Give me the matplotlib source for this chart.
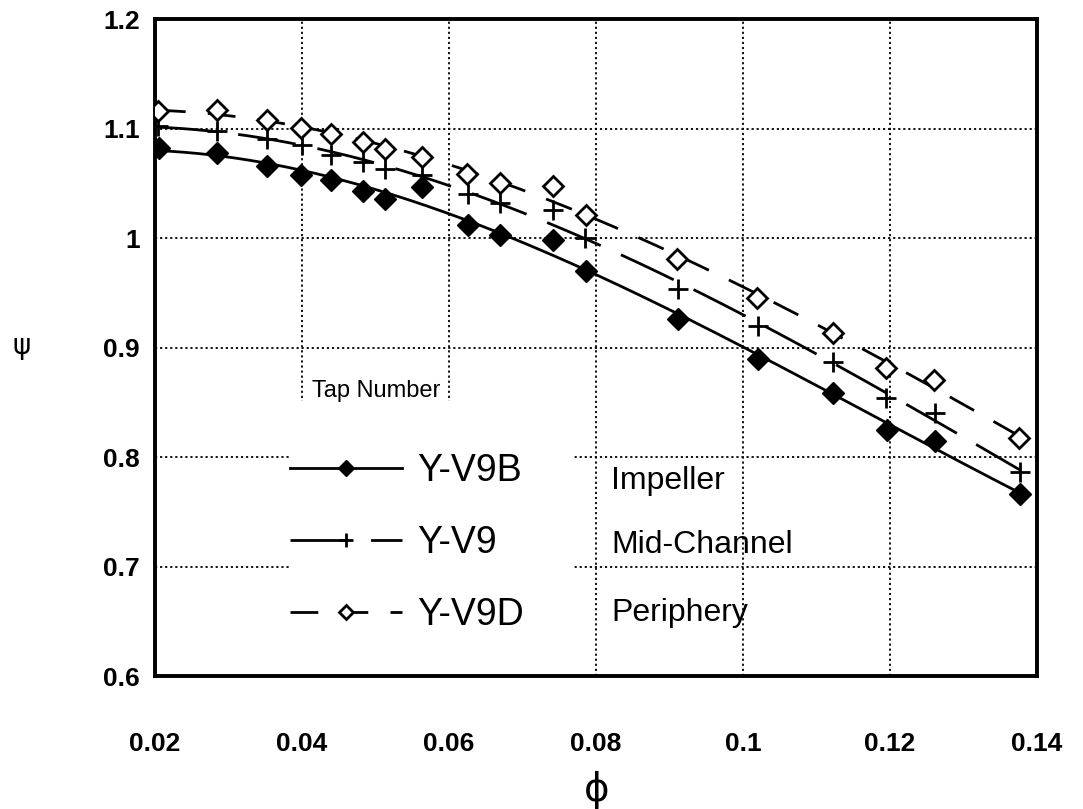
import matplotlib
matplotlib.use("Agg")
import matplotlib.pyplot as plt
from matplotlib.lines import Line2D
from matplotlib.patches import Rectangle
from matplotlib.ticker import FuncFormatter
import numpy as np

plt.rcParams["font.family"] = ["Liberation Sans", "DejaVu Sans"]

# flow coefficient (phi) and head coefficient (psi) for the three taps
phi_imp = [0.0205, 0.0284, 0.0353, 0.0399, 0.0440, 0.0483, 0.0513, 0.0563, 0.0626,
           0.0669, 0.0742, 0.0787, 0.0911, 0.1020, 0.1123, 0.1196, 0.1261, 0.1377]
psi_imp = [1.083, 1.078, 1.066, 1.058, 1.053, 1.043, 1.036, 1.047, 1.012,
           1.003, 0.999, 0.970, 0.926, 0.890, 0.859, 0.825, 0.815, 0.767]

phi_mid = [0.0204, 0.0284, 0.0353, 0.0400, 0.0440, 0.0483, 0.0513, 0.0563, 0.0626,
           0.0669, 0.0742, 0.0785, 0.0911, 0.1020, 0.1123, 0.1195, 0.1261, 0.1377]
psi_mid = [1.103, 1.098, 1.091, 1.085, 1.076, 1.070, 1.063, 1.058, 1.041,
           1.032, 1.026, 1.000, 0.954, 0.920, 0.887, 0.854, 0.841, 0.787]

phi_per = [0.0204, 0.0284, 0.0352, 0.0399, 0.0440, 0.0483, 0.0513, 0.0563, 0.0625,
           0.0669, 0.0742, 0.0787, 0.0910, 0.1019, 0.1122, 0.1195, 0.1260, 0.1376]
psi_per = [1.116, 1.117, 1.108, 1.101, 1.095, 1.088, 1.082, 1.074, 1.059,
           1.051, 1.048, 1.021, 0.981, 0.946, 0.914, 0.882, 0.871, 0.818]

taps = ["Y-V9B", "Y-V9", "Y-V9D"]
locations = ["Impeller", "Mid-Channel", "Periphery"]

x_ticks = [0.02, 0.04, 0.06, 0.08, 0.1, 0.12, 0.14]
y_ticks = [0.6, 0.7, 0.8, 0.9, 1.0, 1.1, 1.2]

fig = plt.figure(figsize=(10.83, 8.09), dpi=100)
ax = fig.add_axes([0.1431, 0.1638, 0.8144, 0.8122])

estilos = [
    dict(marker="D", mfc="black", mec="black", ms=11, mew=1, dashes=None),
    dict(marker="+", mfc="black", mec="black", ms=14, mew=2, dashes=(21, 8)),
    dict(marker="D", mfc="white", mec="black", ms=10, mew=2, dashes=(10, 8)),
]
series = [(phi_imp, psi_imp), (phi_mid, psi_mid), (phi_per, psi_per)]

handles = []
for (xs, ys), st in zip(series, estilos):
    xs = np.array(xs)
    ys = np.array(ys)
    # curva ajustada suave, como en la figura original
    coef = np.polyfit(xs, ys, 3)
    xf = np.linspace(xs.min(), xs.max(), 200)
    ln, = ax.plot(xf, np.polyval(coef, xf), color="black", lw=2, zorder=2)
    if st["dashes"]:
        ln.set_dashes(st["dashes"])
    ax.plot(xs, ys, ls="none", marker=st["marker"], mfc=st["mfc"], mec=st["mec"],
            ms=st["ms"], mew=st["mew"], zorder=3)
    h = Line2D([], [], color="black", lw=2, marker=st["marker"], mfc=st["mfc"],
               mec=st["mec"], ms=st["ms"] * 0.75, mew=st["mew"])
    if st["dashes"]:
        h.set_dashes(st["dashes"])
    handles.append(h)

ax.set_xlim(0.02, 0.14)
ax.set_ylim(0.6, 1.2)
ax.set_xticks(x_ticks)
ax.set_yticks(y_ticks)
fmt = FuncFormatter(lambda v, p: f"{v:g}")
ax.xaxis.set_major_formatter(fmt)
ax.yaxis.set_major_formatter(fmt)
ax.tick_params(axis="both", length=0, labelsize=19)
ax.tick_params(axis="x", pad=40)
ax.tick_params(axis="y", pad=11)
for lab in ax.get_xticklabels() + ax.get_yticklabels():
    lab.set_fontweight("bold")

ax.grid(True, color="black", ls=(0, (1.2, 1.6)), lw=1.3)
ax.set_axisbelow(True)
for sp in ax.spines.values():
    sp.set_linewidth(2.8)

ax.set_xlabel("ϕ", fontsize=28, family=["DejaVu Sans"], va="center")
ax.xaxis.set_label_coords(0.501, -0.173)
ax.set_ylabel("ψ", fontsize=20, family=["DejaVu Sans"], rotation=0, va="center", ha="center")
ax.yaxis.set_label_coords(-0.151, 0.503)

# fondo blanco detras de la leyenda (tapa la rejilla)
ax.add_patch(Rectangle((0.153, 0.0), 0.32, 0.42, transform=ax.transAxes,
                       facecolor="white", edgecolor="none", zorder=1))

ax.text(0.178, 0.4346, "Tap Number", transform=ax.transAxes, fontsize=17,
        va="center", ha="left", zorder=6)

leg = ax.legend(handles, taps, loc="upper left", bbox_to_anchor=(0.153, 0.340),
                fontsize=27, handlelength=3.0, handletextpad=0.4, labelspacing=0.96,
                frameon=False, borderpad=0, borderaxespad=0)
leg.set_zorder(5)

for txt, yy in zip(locations, [0.298, 0.200, 0.097]):
    ax.text(0.517, yy, txt, transform=ax.transAxes, fontsize=23, va="center",
            ha="left", zorder=6)

fig.savefig("out.png", dpi=100)
